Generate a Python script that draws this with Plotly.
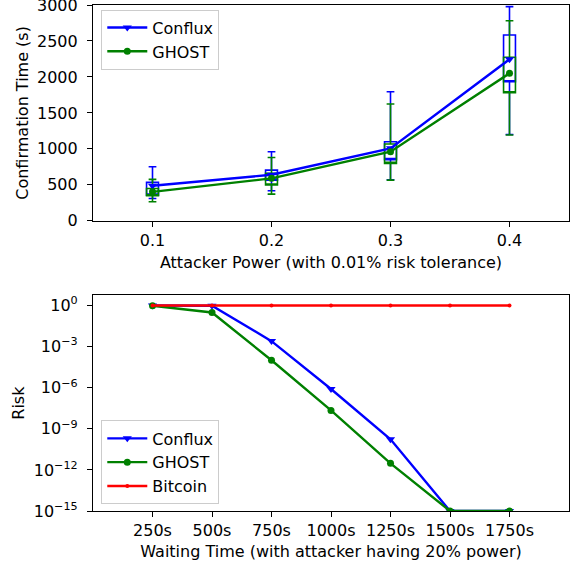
import plotly.graph_objects as go

# ---- top panel data ----
power = [0.1, 0.2, 0.3, 0.4]
power_labels = ["0.1", "0.2", "0.3", "0.4"]
conflux_mean = [487, 640, 1007, 2245]
ghost_mean = [403, 590, 960, 2050]
conflux_q1 = [357, 566, 850, 1933]
conflux_q3 = [534, 705, 1099, 2583]
conflux_low = [311, 417, 570, 1200]
conflux_high = [751, 960, 1794, 2977]
ghost_q1 = [348, 497, 798, 1780]
ghost_q3 = [450, 659, 1067, 2273]
ghost_low = [265, 371, 566, 1192]
ghost_high = [576, 880, 1623, 2782]
time_ticks = [0, 500, 1000, 1500, 2000, 2500, 3000]

# ---- bottom panel data ----
wait = [250, 500, 750, 1000, 1250, 1500, 1750]
wait_labels = ["250s", "500s", "750s", "1000s", "1250s", "1500s", "1750s"]
risk_conflux = [1.0, 0.95, 2.5e-3, 8e-7, 1.7e-10, 1e-15, 1e-15]
risk_ghost = [0.95, 0.31, 1e-4, 2.2e-8, 3e-12, 1e-15, 1e-15]
risk_bitcoin = [1.0, 1.0, 1.0, 1.0, 1.0, 1.0, 1.0]
risk_ticks = [1e0, 1e-3, 1e-6, 1e-9, 1e-12, 1e-15]
risk_labels = ["10<sup>0</sup>", "10<sup>\u22123</sup>", "10<sup>\u22126</sup>",
               "10<sup>\u22129</sup>", "10<sup>\u221212</sup>", "10<sup>\u221215</sup>"]

BLUE, GREEN, RED = "#0000ff", "#008000", "#ff0000"
FONT = "DejaVu Sans"
FS = 16

fig = go.Figure()

def add_box(q1, q3, low, high, color):
    fig.add_trace(go.Box(
        x=power, q1=q1, median=q1, q3=q3, lowerfence=low, upperfence=high,
        width=0.01, whiskerwidth=0.65, fillcolor="rgba(0,0,0,0)",
        line=dict(color=color, width=1.6), boxpoints=False,
        showlegend=False, hoverinfo="skip", xaxis="x", yaxis="y"))

add_box(conflux_q1, conflux_q3, conflux_low, conflux_high, BLUE)
fig.add_trace(go.Scatter(x=power, y=conflux_mean, mode="lines+markers", name="Conflux",
                         line=dict(color=BLUE, width=2.4),
                         marker=dict(symbol="triangle-down", size=8, color=BLUE),
                         xaxis="x", yaxis="y", legend="legend"))
add_box(ghost_q1, ghost_q3, ghost_low, ghost_high, GREEN)
fig.add_trace(go.Scatter(x=power, y=ghost_mean, mode="lines+markers", name="GHOST",
                         line=dict(color=GREEN, width=2.4),
                         marker=dict(symbol="circle", size=7, color=GREEN),
                         xaxis="x", yaxis="y", legend="legend"))

fig.add_trace(go.Scatter(x=wait, y=risk_conflux, mode="lines+markers", name="Conflux",
                         line=dict(color=BLUE, width=2.4),
                         marker=dict(symbol="triangle-down", size=8, color=BLUE),
                         xaxis="x2", yaxis="y2", legend="legend2"))
fig.add_trace(go.Scatter(x=wait, y=risk_ghost, mode="lines+markers", name="GHOST",
                         line=dict(color=GREEN, width=2.4),
                         marker=dict(symbol="circle", size=7, color=GREEN),
                         xaxis="x2", yaxis="y2", legend="legend2"))
fig.add_trace(go.Scatter(x=wait, y=risk_bitcoin, mode="lines+markers", name="Bitcoin",
                         line=dict(color=RED, width=2.4),
                         marker=dict(symbol="circle", size=4, color=RED),
                         xaxis="x2", yaxis="y2", legend="legend2"))

axis_common = dict(showline=True, linecolor="black", linewidth=1.2, mirror=True,
                   ticks="outside", ticklen=5, tickwidth=1.2, tickcolor="black",
                   showgrid=False, zeroline=False, automargin=False,
                   ticklabeloverflow="allow",
                   tickfont=dict(family=FONT, size=FS, color="black"))

legend_common = dict(bgcolor="rgba(255,255,255,0.8)", bordercolor="#cccccc", borderwidth=1,
                     font=dict(family=FONT, size=FS, color="black"),
                     xanchor="left", x=0.0174, itemwidth=40, tracegroupgap=0)

fig.update_layout(
    width=571, height=566,
    margin=dict(l=92.7, r=2, t=5, b=55.3, autoexpand=False),
    paper_bgcolor="white", plot_bgcolor="white",
    font=dict(family=FONT, size=FS, color="black"),
    boxmode="overlay",
    xaxis=dict(domain=[0, 1], anchor="y", range=[0.05, 0.45], tickvals=power,
               ticktext=power_labels,
               title=dict(text="Attacker Power (with 0.01% risk tolerance)", standoff=7,
                          font=dict(family=FONT, size=FS)),
               **axis_common),
    yaxis=dict(domain=[0.5735, 1], anchor="x", range=[0, 3000.01], tickvals=time_ticks,
               ticklabelstandoff=6,
               title=dict(text="Confirmation Time (s)", standoff=4,
                          font=dict(family=FONT, size=FS)),
               **axis_common),
    xaxis2=dict(domain=[0, 1], anchor="y2", range=[0, 2000], tickvals=wait,
                ticktext=wait_labels,
                title=dict(text="Waiting Time (with attacker having 20% power)", standoff=6,
                           font=dict(family=FONT, size=FS)),
                **axis_common),
    yaxis2=dict(domain=[0, 0.4265], anchor="x2", type="log", range=[-15, 0.75],
                tickvals=risk_ticks, ticktext=risk_labels, ticklabelstandoff=6,
                title=dict(text="Risk", standoff=5, font=dict(family=FONT, size=FS)),
                **axis_common),
    legend=dict(yanchor="top", y=0.991, **legend_common),
    legend2=dict(yanchor="bottom", y=0.0129, **legend_common),
)

fig.write_html("out.html", config={"displayModeBar": False},
               post_script="document.body.style.margin='0';")
